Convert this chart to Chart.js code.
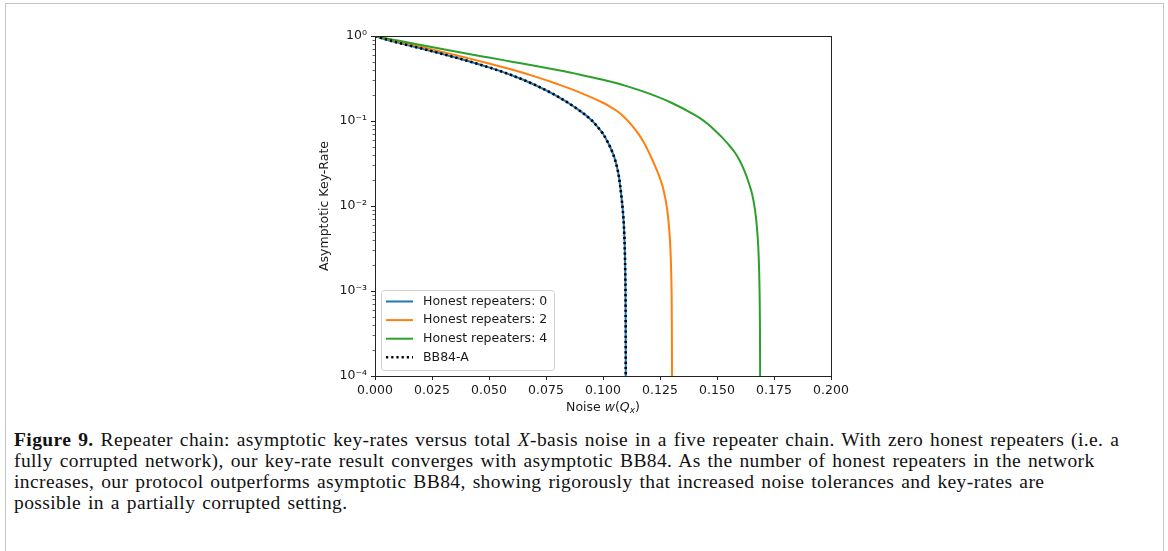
<!DOCTYPE html>
<html>
<head>
<meta charset="utf-8">
<script src="https://cdn.jsdelivr.net/npm/chart.js@4.4.1/dist/chart.umd.min.js"></script>
<style>
    body { margin: 0; background: #fff; width: 1168px; height: 551px; overflow: hidden; position: relative; }
    #frame { position: absolute; left: 5px; top: 3px; width: 1157px; height: 600px; border: 1px solid #c4c4c4; }
    #chartBox { position: absolute; left: 0; top: 0; width: 1168px; height: 420px; }
    #caption {
        position: absolute; left: 14px; top: 429px;
        font-family: "Liberation Serif", "DejaVu Serif", serif;
        font-size: 19.5px; line-height: 21px; letter-spacing: 0.4px; word-spacing: 1.6px;
        color: #111; white-space: nowrap;
    }
</style>
</head>
<body>
<div id="frame"></div>
<div id="chartBox"><canvas id="keyRateChart" width="1168" height="420"></canvas></div>
<div id="caption"><b>Figure 9.</b> Repeater chain: asymptotic key-rates versus total <i>X</i>-basis noise in a five repeater chain. With zero honest repeaters (i.e. a<br>fully corrupted network), our key-rate result converges with asymptotic BB84. As the number of honest repeaters in the network<br>increases, our protocol outperforms asymptotic BB84, showing rigorously that increased noise tolerances and key-rates are<br>possible in a partially corrupted setting.</div>
<script>
// Values
const noise0 = [0, 0.005, 0.010, 0.020, 0.030, 0.040, 0.050, 0.060, 0.070, 0.080, 0.088, 0.095, 0.0975, 0.100, 0.102, 0.104, 0.1055, 0.107, 0.108, 0.1087, 0.1092, 0.1095, 0.1097, 0.1098, 0.1099, 0.10995, 0.1100];
const rate0 = [1.0, 0.908, 0.836, 0.716, 0.611, 0.515, 0.427, 0.345, 0.267, 0.195, 0.143, 0.102, 0.086, 0.0708, 0.0569, 0.0437, 0.0335, 0.022, 0.0135, 0.0088, 0.0056, 0.0035, 0.0021, 0.0014, 0.0007, 0.0003, 0.00003];

const noise2 = [0, 0.005, 0.010, 0.020, 0.030, 0.040, 0.050, 0.060, 0.070, 0.080, 0.090, 0.100, 0.103, 0.106, 0.109, 0.112, 0.115, 0.118, 0.1205, 0.1225, 0.1245, 0.126, 0.1272, 0.1282, 0.1290, 0.1296, 0.1299, 0.1301, 0.1302, 0.13025, 0.1303];
const rate2 = [1.0, 0.93, 0.867, 0.750, 0.646, 0.555, 0.475, 0.403, 0.335, 0.272, 0.216, 0.164, 0.148, 0.132, 0.113, 0.0933, 0.074, 0.0556, 0.0407, 0.031, 0.023, 0.0175, 0.0128, 0.0089, 0.0055, 0.003, 0.0017, 0.0009, 0.0004, 0.00015, 0.00002];

const noise4 = [0, 0.005, 0.010, 0.020, 0.030, 0.040, 0.050, 0.060, 0.070, 0.080, 0.090, 0.100, 0.110, 0.120, 0.130, 0.140, 0.143, 0.146, 0.149, 0.152, 0.155, 0.158, 0.160, 0.162, 0.164, 0.1655, 0.1667, 0.1675, 0.1681, 0.1685, 0.1687, 0.1688, 0.1689, 0.16895];
const rate4 = [1.0, 0.937, 0.885, 0.785, 0.697, 0.622, 0.557, 0.499, 0.447, 0.398, 0.351, 0.305, 0.259, 0.211, 0.164, 0.119, 0.106, 0.092, 0.078, 0.065, 0.053, 0.042, 0.034, 0.026, 0.0185, 0.0135, 0.0089, 0.0057, 0.0033, 0.0017, 0.0009, 0.0005, 0.00015, 0.00002];

// BB84-A sits exactly on the zero-honest-repeater curve
const noiseBB84 = noise0;
const rateBB84 = rate0;

const seriesLabels = ['Honest repeaters: 0', 'Honest repeaters: 2', 'Honest repeaters: 4', 'BB84-A'];
const xTicks = [0, 0.025, 0.05, 0.075, 0.1, 0.125, 0.15, 0.175, 0.2];
const yDecades = [1e-4, 1e-3, 1e-2, 1e-1, 1];

const FONT = '"DejaVu Sans", sans-serif';
const TEXT = '#1a1a1a';

function toPoints(xs, ys) {
    return xs.map((x, i) => ({ x: x, y: ys[i] }));
}

function supExp(n) {
    const map = { '-': '\u207B', '0': '\u2070', '1': '\u00B9', '2': '\u00B2', '3': '\u00B3', '4': '\u2074' };
    return String(n).split('').map(c => map[c]).join('');
}

// log ticks: decades plus 2..9 minor ticks
const yTicks = [];
yDecades.forEach((d, i) => {
    yTicks.push({ value: d, major: true });
    if (i < yDecades.length - 1) {
        for (let k = 2; k <= 9; k++) yTicks.push({ value: d * k, major: false });
    }
});

// axis box, tick marks, axis titles and the in-plot legend
const axesDecor = {
    id: 'axesDecor',
    afterDatasetsDraw(chart) {
        const c = chart.ctx;
        const a = chart.chartArea;
        const xs = chart.scales.x;
        const ys = chart.scales.y;
        c.save();
        c.strokeStyle = '#222';
        c.lineWidth = 1;
        c.strokeRect(Math.round(a.left) + 0.5, Math.round(a.top) + 0.5, Math.round(a.right - a.left), Math.round(a.bottom - a.top));

        c.beginPath();
        xs.ticks.forEach(t => {
            const px = Math.round(xs.getPixelForValue(t.value)) + 0.5;
            c.moveTo(px, a.bottom);
            c.lineTo(px, a.bottom + 4);
        });
        c.stroke();

        ys.ticks.forEach(t => {
            const py = Math.round(ys.getPixelForValue(t.value)) + 0.5;
            c.beginPath();
            c.lineWidth = t.major ? 1 : 0.7;
            c.moveTo(a.left, py);
            c.lineTo(a.left - (t.major ? 4 : 2.5), py);
            c.stroke();
        });

        // axis titles
        c.fillStyle = TEXT;
        c.textBaseline = 'middle';
        c.font = '12.5px ' + FONT;
        c.save();
        c.translate(a.left - 50, (a.top + a.bottom) / 2);
        c.rotate(-Math.PI / 2);
        c.textAlign = 'center';
        c.fillText('Asymptotic Key-Rate', 0, 0);
        c.restore();

        const parts = [
            { t: 'Noise ', f: '12.5px ' + FONT, dy: 0 },
            { t: 'w', f: 'italic 12.5px ' + FONT, dy: 0 },
            { t: '(', f: '12.5px ' + FONT, dy: 0 },
            { t: 'Q', f: 'italic 12.5px ' + FONT, dy: 0 },
            { t: 'x', f: 'italic 9px ' + FONT, dy: 3 },
            { t: ')', f: '12.5px ' + FONT, dy: 0 }
        ];
        let total = 0;
        parts.forEach(p => { c.font = p.f; p.w = c.measureText(p.t).width; total += p.w; });
        let tx = (a.left + a.right) / 2 - total / 2;
        c.textAlign = 'left';
        parts.forEach(p => {
            c.font = p.f;
            c.fillText(p.t, tx, a.bottom + 32 + p.dy);
            tx += p.w;
        });

        // legend, lower left inside the axes
        const bx = a.left + 6, bw = 173, bh = 80, by = a.bottom - 6 - bh;
        c.beginPath();
        c.roundRect(bx + 0.5, by + 0.5, bw, bh, 3);
        c.fillStyle = 'rgba(255,255,255,0.8)';
        c.fill();
        c.strokeStyle = '#d0d0d0';
        c.lineWidth = 1;
        c.stroke();
        chart.data.datasets.forEach((ds, i) => {
            const ry = by + 11.5 + i * 18.6;
            c.beginPath();
            c.strokeStyle = ds.borderColor;
            c.lineWidth = ds.borderWidth;
            c.setLineDash(ds.borderDash || []);
            c.moveTo(bx + 5, ry);
            c.lineTo(bx + 32, ry);
            c.stroke();
            c.setLineDash([]);
            c.fillStyle = TEXT;
            c.font = '12.5px ' + FONT;
            c.fillText(ds.label, bx + 42, ry);
        });
        c.restore();
    }
};

const ctx = document.getElementById('keyRateChart').getContext('2d');
const keyRateChart = new Chart(ctx, {
    type: 'line',
    data: {
        datasets: [
            { label: seriesLabels[0], data: toPoints(noise0, rate0), borderColor: '#1f77b4', borderWidth: 2, order: 3 },
            { label: seriesLabels[1], data: toPoints(noise2, rate2), borderColor: '#ff7f0e', borderWidth: 2, order: 2 },
            { label: seriesLabels[2], data: toPoints(noise4, rate4), borderColor: '#2ca02c', borderWidth: 2, order: 1 },
            { label: seriesLabels[3], data: toPoints(noiseBB84, rateBB84), borderColor: '#000', borderWidth: 2.6, borderDash: [2.2, 3], order: 0 }
        ]
    },
    options: {
        responsive: false,
        devicePixelRatio: 1,
        animation: false,
        layout: { padding: { left: 300, right: 337, top: 36, bottom: 0 } },
        elements: {
            point: { radius: 0 },
            line: { cubicInterpolationMode: 'monotone', fill: false }
        },
        datasets: { line: { clip: 0 } },
        scales: {
            x: {
                type: 'linear', min: 0, max: 0.2,
                afterBuildTicks: s => { s.ticks = xTicks.map(v => ({ value: v })); },
                afterFit: s => { s.height = 44; },
                grid: { display: false, drawTicks: false },
                border: { display: false },
                ticks: {
                    autoSkip: false, maxRotation: 0, padding: 7,
                    color: TEXT, font: { family: FONT, size: 12.5 },
                    callback: v => v.toFixed(3)
                }
            },
            y: {
                type: 'logarithmic', min: 1e-4, max: 1,
                afterBuildTicks: s => { s.ticks = yTicks.map(t => ({ value: t.value, major: t.major })); },
                afterFit: s => { s.width = 75; },
                grid: { display: false, drawTicks: false },
                border: { display: false },
                ticks: {
                    autoSkip: false, padding: 8,
                    color: TEXT, font: { family: FONT, size: 12.5 },
                    callback: v => {
                        const e = Math.log10(v);
                        return Math.abs(e - Math.round(e)) < 1e-9 ? '10' + supExp(Math.round(e)) : '';
                    }
                }
            }
        },
        plugins: {
            legend: { display: false },
            tooltip: { enabled: false }
        }
    },
    plugins: [axesDecor]
});
</script>
</body>
</html>
